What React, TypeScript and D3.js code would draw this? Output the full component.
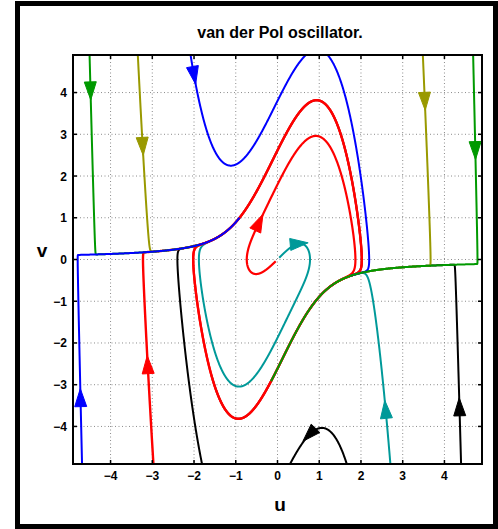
import React from 'react';
import * as d3 from 'd3';

// van der Pol oscillator: u' = v, v' = mu (1 - u^2) v - u
const MU = 2;

const xTicks = [-4, -3, -2, -1, 0, 1, 2, 3, 4];
const yTicks = [-4, -3, -2, -1, 0, 1, 2, 3, 4];

// initial points (arrow positions), in drawing order
const trajNames = ['blackArc', 'blackRight', 'cyanInner', 'cyanRight', 'redInner', 'redLeft', 'oliveLeft', 'oliveRight', 'blueTop', 'greenLeft', 'greenRight', 'blueLeft'];
const startU = [0.76, 4.36, 0.52, 2.59, -0.44, -3.11, -3.23, 3.53, -2.0, -4.48, 4.74, -4.72];
const startV = [-4.2, -3.53, 0.38, -3.59, 0.89, -2.52, 2.71, 3.79, 4.41, 4.04, 2.61, -3.31];
const trajColors = ['#000000', '#000000', '#009999', '#009999', '#ff0000', '#ff0000', '#999900', '#999900', '#0000ff', '#009900', '#009900', '#0000ff'];
const trajWidths = [2, 2, 2, 2, 2.2, 2.4, 2, 2, 2, 2, 2, 2];
const tForward = [4, 15, 9, 4, 16, 20, 5, 10, 3, 14, 20.15, 19.5];
const tBackward = [10, 10, 10, 10, 10, 10, 10, 10, 10, 10, 10, 10];

const W = 498;
const H = 529;
const PL = 73, PR = 482, PT = 55, PB = 464;

function field(u: number, v: number): [number, number] {
  return [v, MU * (1 - u * u) * v - u];
}

function integrate(u0: number, v0: number, T: number, sign: number): [number, number][] {
  const h = 0.002 * sign;
  const n = Math.round(T / 0.002);
  const pts: [number, number][] = [[u0, v0]];
  let u = u0, v = v0;
  for (let i = 0; i < n; i++) {
    const [a1, b1] = field(u, v);
    const [a2, b2] = field(u + (h / 2) * a1, v + (h / 2) * b1);
    const [a3, b3] = field(u + (h / 2) * a2, v + (h / 2) * b2);
    const [a4, b4] = field(u + h * a3, v + h * b3);
    u += (h / 6) * (a1 + 2 * a2 + 2 * a3 + a4);
    v += (h / 6) * (b1 + 2 * b2 + 2 * b3 + b4);
    pts.push([u, v]);
    if (Math.abs(u) > 8 || Math.abs(v) > 12) break;
    if (sign < 0 && Math.hypot(u, v) < 0.06) break;
  }
  return pts;
}

export default function App() {
  const x = d3.scaleLinear().domain([-4.9, 4.9]).range([PL, PR]);
  const y = d3.scaleLinear().domain([-4.9, 4.9]).range([PB, PT]);
  const line = d3.line<[number, number]>().x(d => x(d[0])).y(d => y(d[1]));

  const trajs = startU.map((u0, i) => {
    const back = integrate(u0, startV[i], tBackward[i], -1).reverse();
    const fwd = integrate(u0, startV[i], tForward[i], 1);
    return back.concat(fwd.slice(1));
  });

  const arrows = startU.map((u0, i) => {
    const [du, dv] = field(u0, startV[i]);
    const px = x(u0), py = y(startV[i]);
    const dx = x(u0 + du) - x(u0);
    const dy = y(startV[i] + dv) - y(startV[i]);
    const len = Math.hypot(dx, dy) || 1;
    const ux = dx / len, uy = dy / len;
    const nx = -uy, ny = ux;
    const L = 18, Wd = 12;
    const tip = [px + ux * L / 2, py + uy * L / 2];
    const b1 = [px - ux * L / 2 + nx * Wd / 2, py - uy * L / 2 + ny * Wd / 2];
    const b2 = [px - ux * L / 2 - nx * Wd / 2, py - uy * L / 2 - ny * Wd / 2];
    return `M${tip[0]},${tip[1]}L${b1[0]},${b1[1]}L${b2[0]},${b2[1]}Z`;
  });

  const font = '"Liberation Sans", Arial, Helvetica, sans-serif';
  const fmt = (t: number) => (t < 0 ? '\u2212' + Math.abs(t) : String(t));

  return (
    <svg width={W} height={H} style={{ position: 'absolute', left: 0, top: 0, background: '#fff' }}>
      <defs>
        <clipPath id="plotClip">
          <rect x={PL} y={PT} width={PR - PL} height={PB - PT} />
        </clipPath>
      </defs>
      {/* outer frame */}
      <rect x={17.5} y={3.5} width={478} height={523} fill="none" stroke="#000" strokeWidth={5} />
      {/* title */}
      <text x={280} y={38} textAnchor="middle" fontFamily={font} fontWeight="bold" fontSize={16}>van der Pol oscillator.</text>
      {/* grid */}
      {xTicks.map(t => (
        <line key={'gx' + t} x1={x(t)} x2={x(t)} y1={PT} y2={PB} stroke="#8c8c8c" strokeWidth={1} strokeDasharray="1,2.5" />
      ))}
      {yTicks.map(t => (
        <line key={'gy' + t} x1={PL} x2={PR} y1={y(t)} y2={y(t)} stroke="#8c8c8c" strokeWidth={1} strokeDasharray="1,2.5" />
      ))}
      {/* trajectories */}
      <g clipPath="url(#plotClip)">
        {trajs.map((pts, i) => (
          <path key={trajNames[i]} d={line(pts) || ''} fill="none" stroke={trajColors[i]} strokeWidth={trajWidths[i]} strokeLinejoin="round" />
        ))}
        {arrows.map((d, i) => (
          <path key={'a' + i} d={d} fill={trajColors[i]} stroke={trajColors[i]} strokeWidth={1} />
        ))}
      </g>
      {/* ticks */}
      {xTicks.map(t => (
        <g key={'tx' + t}>
          <line x1={x(t)} x2={x(t)} y1={PB} y2={PB - 4} stroke="#000" strokeWidth={1.5} />
          <line x1={x(t)} x2={x(t)} y1={PT} y2={PT + 4} stroke="#000" strokeWidth={1.5} />
          <text x={x(t)} y={480} textAnchor="middle" fontFamily={font} fontWeight="bold" fontSize={12}>{fmt(t)}</text>
        </g>
      ))}
      {yTicks.map(t => (
        <g key={'ty' + t}>
          <line x1={PL} x2={PL + 4} y1={y(t)} y2={y(t)} stroke="#000" strokeWidth={1.5} />
          <line x1={PR} x2={PR - 4} y1={y(t)} y2={y(t)} stroke="#000" strokeWidth={1.5} />
          <text x={67} y={y(t) + 4.5} textAnchor="end" fontFamily={font} fontWeight="bold" fontSize={12}>{fmt(t)}</text>
        </g>
      ))}
      {/* axes box */}
      <rect x={PL} y={PT} width={PR - PL} height={PB - PT} fill="none" stroke="#000" strokeWidth={2} />
      {/* axis labels */}
      <text x={280} y={511} textAnchor="middle" fontFamily={font} fontWeight="bold" fontSize={19}>u</text>
      <text x={42} y={257} textAnchor="middle" fontFamily={font} fontWeight="bold" fontSize={19}>v</text>
    </svg>
  );
}
